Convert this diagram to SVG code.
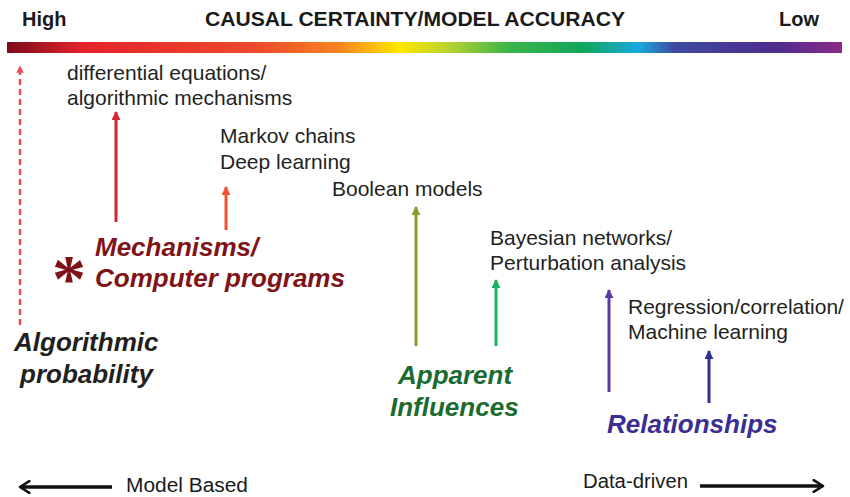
<svg xmlns="http://www.w3.org/2000/svg" width="850" height="497" viewBox="0 0 850 497">
  <defs>
    <linearGradient id="spectrum" x1="0" y1="0" x2="1" y2="0">
      <stop offset="0" stop-color="#7d0b1c"/>
      <stop offset="0.09" stop-color="#e3232b"/>
      <stop offset="0.30" stop-color="#ee4a2b"/>
      <stop offset="0.40" stop-color="#f5861f"/>
      <stop offset="0.47" stop-color="#fde700"/>
      <stop offset="0.53" stop-color="#b6d232"/>
      <stop offset="0.60" stop-color="#3cb54a"/>
      <stop offset="0.69" stop-color="#10a65a"/>
      <stop offset="0.755" stop-color="#1aa9e0"/>
      <stop offset="0.80" stop-color="#3e4aa0"/>
      <stop offset="0.92" stop-color="#4e2d8e"/>
      <stop offset="1" stop-color="#8a2a88"/>
    </linearGradient>
    <marker id="tip" viewBox="0 0 10 10" refX="9" refY="5" markerWidth="3" markerHeight="3" orient="auto-start-reverse" markerUnits="strokeWidth">
      <path d="M0,0 L10,5 L0,10 Z" fill="context-stroke"/>
    </marker>
    <marker id="open" viewBox="0 0 12 12" refX="10" refY="6" markerWidth="4" markerHeight="4" orient="auto-start-reverse" markerUnits="strokeWidth">
      <path d="M2,1 L10,6 L2,11" fill="none" stroke="#111" stroke-width="2.2" stroke-linecap="round" stroke-linejoin="round"/>
    </marker>
  </defs>
  <style>
    .hdr { font-family: "Liberation Sans", Arial, sans-serif; font-weight: bold; font-size: 20px; fill: #1a1a1a; }
    .lbl { font-family: "Liberation Sans", Arial, sans-serif; font-size: 21px; fill: #231f20; }
    .cat { font-family: "Liberation Sans", Arial, sans-serif; font-weight: bold; font-style: italic; font-size: 26px; }
    .axis { font-family: "Liberation Sans", Arial, sans-serif; font-size: 20px; fill: #1a1a1a; }
    .up { stroke-width: 3; fill: none; marker-end: url(#tip); }
  </style>

  <!-- scale header -->
  <g id="scale">
    <text class="hdr" x="22" y="26">High</text>
    <text class="hdr" x="205" y="26" textLength="420" lengthAdjust="spacingAndGlyphs">CAUSAL CERTAINTY/MODEL ACCURACY</text>
    <text class="hdr" x="779" y="26">Low</text>
    <rect x="7" y="42" width="835" height="11" fill="url(#spectrum)"/>
  </g>

  <!-- method labels -->
  <g id="diffeq">
    <text class="lbl" x="67" y="80">differential equations/</text>
    <text class="lbl" x="67" y="105">algorithmic mechanisms</text>
  </g>
  <g id="markov">
    <text class="lbl" x="220" y="143">Markov chains</text>
    <text class="lbl" x="220" y="169">Deep learning</text>
  </g>
  <g id="boolean">
    <text class="lbl" x="332" y="196">Boolean models</text>
  </g>
  <g id="bayes">
    <text class="lbl" x="490" y="245">Bayesian networks/</text>
    <text class="lbl" x="490" y="270">Perturbation analysis</text>
  </g>
  <g id="regression">
    <text class="lbl" x="628" y="314">Regression/correlation/</text>
    <text class="lbl" x="628" y="339">Machine learning</text>
  </g>

  <!-- category labels -->
  <g id="mechanisms">
    <text x="52" y="301" font-family="'Liberation Serif', 'Times New Roman', serif" font-weight="bold" font-size="68" fill="#7f1418">*</text>
    <text class="cat" x="95" y="256" fill="#7f1418">Mechanisms/</text>
    <text class="cat" x="95" y="287" fill="#7f1418">Computer programs</text>
  </g>
  <g id="algoprob">
    <text class="cat" x="14" y="351" fill="#231f20">Algorithmic</text>
    <text class="cat" x="20" y="383" fill="#231f20">probability</text>
  </g>
  <g id="influences">
    <text class="cat" x="398" y="384" fill="#1b6a2f">Apparent</text>
    <text class="cat" x="390" y="416" fill="#1b6a2f">Influences</text>
  </g>
  <g id="relationships">
    <text class="cat" x="607" y="433" fill="#3b2e92">Relationships</text>
  </g>

  <!-- bottom axis -->
  <g id="axis">
    <text class="axis" x="126" y="492" textLength="122" lengthAdjust="spacingAndGlyphs">Model Based</text>
    <text class="axis" x="583" y="488" textLength="105" lengthAdjust="spacingAndGlyphs">Data-driven</text>
  </g>

  <!-- connectors -->
  <g id="connectors">
    <line x1="20" y1="325" x2="20" y2="66" stroke="#e6505a" stroke-width="2.5" stroke-dasharray="6 4" marker-end="url(#tip)" fill="none"/>
    <line class="up" x1="116" y1="222" x2="116" y2="112" stroke="#d92530"/>
    <line class="up" x1="226" y1="230" x2="226" y2="187" stroke="#f1532f"/>
    <line class="up" x1="416" y1="346" x2="416" y2="207" stroke="#8e9a2c"/>
    <line class="up" x1="496" y1="346" x2="496" y2="280" stroke="#18b35a"/>
    <line class="up" x1="609" y1="392" x2="609" y2="290" stroke="#5a3c9e"/>
    <line class="up" x1="709" y1="403" x2="709" y2="351" stroke="#2f3092"/>
    <line x1="112" y1="487" x2="20" y2="487" stroke="#111" stroke-width="3.5" marker-end="url(#open)"/>
    <line x1="700" y1="486" x2="823" y2="486" stroke="#111" stroke-width="3.5" marker-end="url(#open)"/>
  </g>
</svg>
